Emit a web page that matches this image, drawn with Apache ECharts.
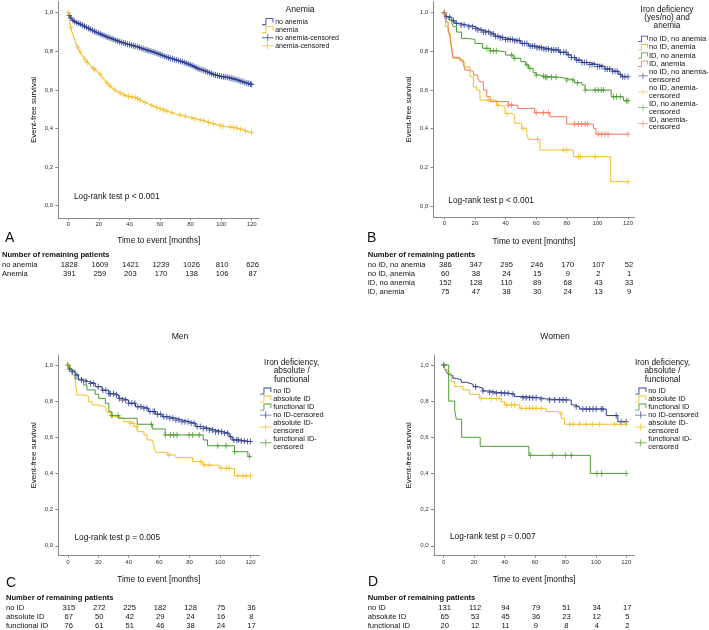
<!DOCTYPE html>
<html><head><meta charset="utf-8">
<script src="https://cdn.jsdelivr.net/npm/echarts@6/dist/echarts.min.js"></script>
<style>html,body{margin:0;padding:0;background:#fff}#c{width:709px;height:630px}</style>
</head><body><div id="c"></div>
<script>
// ---------------- DATA ----------------
const xTicks = [0, 20, 40, 60, 80, 100, 120];
const yTicks = [0, 0.2, 0.4, 0.6, 0.8, 1.0];

// Panel A: Anemia
const A_noAnemia = [[0,1],[0.3,0.988],[1,0.98],[3,0.96],[5,0.95],[8,0.94],[12,0.924],[15,0.912],[18,0.9],[22,0.886],[25,0.876],[30,0.86],[35,0.846],[40,0.834],[45,0.824],[50,0.81],[55,0.798],[60,0.784],[65,0.768],[70,0.757],[75,0.745],[80,0.73],[85,0.71],[90,0.697],[95,0.68],[100,0.669],[105,0.664],[110,0.653],[115,0.64],[120,0.628]];
const A_anemia = [[0,1],[1,0.948],[2,0.91],[3,0.885],[5,0.84],[6.5,0.815],[9,0.78],[12,0.746],[16,0.714],[20,0.688],[23,0.66],[26,0.628],[30,0.602],[34,0.583],[38,0.569],[44,0.56],[49,0.54],[55,0.518],[62,0.497],[69,0.479],[75,0.466],[82,0.453],[88,0.441],[95,0.424],[102,0.41],[108,0.406],[113,0.397],[117,0.385],[120,0.379]];
const A_censNoAnemia = [0.5,1.8,3.1,4.2,5.6,6.9,8.1,9.4,10.6,11.9,13.3,14.4,15.8,17.1,18.2,19.6,20.9,22.1,23.4,24.7,25.9,27.2,28.6,29.8,31.1,32.3,33.6,34.9,36.2,37.4,38.7,40.1,41.3,42.6,43.8,45.2,46.5,47.7,49.0,50.3,51.6,52.8,54.1,55.5,56.7,58.0,59.3,60.5,61.8,63.1,64.4,65.6,66.9,68.2,69.5,70.7,72.0,73.4,74.6,75.9,77.2,78.4,79.7,81.0,82.3,83.6,84.8,86.1,87.4,88.7,89.9,91.2,92.5,93.8,95.1,96.3,97.6,98.9,100.2,101.5,102.7,104.0,105.3,106.6,107.8,109.1,110.4,111.7,112.9,114.2,115.5,116.8,118.0,119.2,120];
const A_censAnemia = [0,1.6,6.1,7.7,10.9,12.5,16.4,17.5,20.8,25.2,27.4,30.6,33.9,36.5,39.4,41.6,43.7,45.3,47,50.3,54.7,57.9,60.1,62.3,64.5,67.8,73.2,76.5,80.9,83,86.3,88.5,91.8,95,99.4,101.2,106,108.2,110.4,112.6,115.9,119.8];
const A_riskLabels = ['no anemia', 'Anemia'];
const A_riskNoAnemia = [1828, 1609, 1421, 1239, 1026, 810, 626];
const A_riskAnemia = [391, 259, 203, 170, 138, 106, 87];

// Panel B: Iron deficiency (yes/no) and anemia
const B_noIDnoAn = [[0,1],[1,0.98],[3,0.976],[5,0.958],[7,0.945],[10,0.936],[15,0.928],[20,0.919],[22,0.91],[25,0.9],[30,0.89],[33,0.878],[36,0.87],[40,0.862],[45,0.855],[50,0.841],[55,0.828],[60,0.819],[65,0.812],[70,0.807],[75,0.795],[80,0.782],[83,0.768],[86,0.755],[90,0.742],[95,0.732],[100,0.722],[105,0.709],[110,0.697],[114,0.68],[116,0.669],[120,0.669]];
const B_noIDAn = [[0,1],[0.5,0.97],[1,0.928],[2.6,0.893],[4,0.841],[4.8,0.807],[6,0.764],[11,0.745],[13.5,0.72],[16.8,0.669],[19,0.617],[21,0.6],[23.3,0.548],[34,0.522],[36,0.514],[39.7,0.479],[44,0.47],[46,0.428],[50.5,0.402],[53.8,0.376],[55,0.345],[62.5,0.29],[84.3,0.255],[108.7,0.126],[120,0.126]];
const B_IDnoAn = [[0,1],[1,0.98],[3,0.962],[5,0.945],[6,0.928],[8,0.9],[11.3,0.867],[15,0.862],[20,0.841],[25,0.816],[30,0.803],[35,0.798],[40,0.781],[45,0.764],[50,0.747],[53,0.73],[55,0.712],[58,0.69],[60,0.678],[62,0.672],[65,0.666],[75,0.66],[80,0.652],[85,0.638],[90,0.626],[92,0.6],[109,0.566],[117,0.545],[120,0.545]];
const B_IDAn = [[0,1],[1,0.953],[2.5,0.91],[3.7,0.876],[4.8,0.824],[5.5,0.769],[10,0.755],[12.4,0.738],[13.5,0.703],[16.8,0.695],[19,0.678],[22,0.66],[23,0.643],[25.5,0.6],[27.7,0.566],[30,0.54],[41.8,0.522],[48,0.505],[59,0.483],[69,0.462],[80,0.424],[97.4,0.402],[99,0.372],[120,0.372]];
const B_censNoIDnoAn = [0,1.5,3.5,6,8,11,13,16,18.5,20.5,22,24,25.5,27,29,30.5,32,33.5,35,36.5,38,40,41.5,43,44.5,46,47.5,49,51,52.5,54,56,57.5,59,60.5,62,63.5,65,66.5,68,70,71.5,73,74.5,76,78,79.5,81,83,85,86.5,88,90,91.5,93,95,96.5,98,100,101.5,103,105,106.5,108,110,111.5,113,115,116.5,118,120];
const B_censNoIDAn = [0,28.7,35,41,51.5,61,77.8,80,87.6,88.7,98.5,120];
const B_censIDnoAn = [0,27.7,30,32,34,44,46,54,56,60,64.7,66,67,70,73,80,84,87,92,98.5,100.5,102.5,104,110.5,112.5,115,119,120];
const B_censIDAn = [0,41.8,44,60,64.7,68,85,87.6,89.8,92,93.5,100.6,102.8,105,107,120];
const B_riskLabels = ['no ID, no anemia', 'no ID, anemia', 'ID, no anemia', 'ID, anemia'];
const B_riskNoIDnoAn = [386, 347, 295, 246, 170, 107, 52];
const B_riskNoIDAn = [60, 38, 24, 15, 9, 2, 1];
const B_riskIDnoAn = [152, 128, 110, 89, 68, 43, 33];
const B_riskIDAn = [75, 47, 38, 30, 24, 13, 9];

// Panel C: Men
const C_noID = [[0,1],[1,0.978],[2.6,0.963],[4.8,0.945],[7,0.917],[11.5,0.908],[13.7,0.898],[18,0.88],[22.5,0.86],[27,0.841],[31,0.834],[33.5,0.815],[35.7,0.806],[40,0.788],[44.5,0.769],[49,0.76],[53,0.742],[57.7,0.727],[62,0.714],[66.5,0.705],[71,0.696],[75,0.686],[79.7,0.677],[84,0.659],[88.5,0.649],[93,0.64],[97,0.631],[101.8,0.622],[106,0.603],[108,0.585],[113,0.579],[117,0.576],[120,0.576]];
const C_absID = [[0,1],[1,0.972],[2.6,0.945],[4.8,0.926],[6,0.834],[11.5,0.825],[13.7,0.797],[15.9,0.779],[19,0.769],[24.7,0.76],[25.8,0.738],[28,0.714],[33.5,0.705],[36.8,0.686],[41,0.677],[43.4,0.659],[45.6,0.631],[50,0.613],[52,0.585],[55.5,0.576],[56.6,0.548],[57.7,0.517],[65.4,0.502],[71,0.487],[82,0.465],[88.5,0.446],[99.5,0.428],[109.5,0.387],[120,0.387]];
const C_funcID = [[0,1],[1.5,0.972],[4.8,0.922],[10.4,0.889],[12.6,0.862],[18,0.838],[20.3,0.815],[24.7,0.788],[27,0.742],[29,0.72],[33.5,0.705],[45.6,0.672],[55.5,0.646],[64,0.613],[89,0.585],[91.8,0.553],[109.5,0.52],[118.3,0.493],[120,0.493]];
const C_censNoID = [1,3,6,9,12,15,17,20,23,25,27,28,30,32,34,36,38,40,42,44,46,48,50,52,54,56,57,59,61,63,65,67,69,71,73,75,77,79,81,83,85,87,89,91,93,95,97,99,101,103,105,107,109,111,112,114,116,118,120];
const C_censAbsID = [0,41,43,45,66.5,87.4,89.6,93,100.7,104,106,111.7,115,117,120];
const C_censFuncID = [0,29,33,55,64,67.4,69.6,71.8,79.7,82,86.3,98.5,104,109.5,119.4];
const C_riskLabels = ['no ID', 'absolute ID', 'functional ID'];
const C_riskNoID = [315, 272, 225, 182, 128, 75, 36];
const C_riskAbsID = [67, 50, 42, 29, 24, 16, 8];
const C_riskFuncID = [76, 61, 51, 46, 38, 24, 17];

// Panel D: Women
const D_noID = [[0,1],[0.7,0.98],[1.75,0.963],[3,0.948],[4,0.941],[6.1,0.926],[8.3,0.917],[11.6,0.904],[14.9,0.893],[19.3,0.88],[22.6,0.871],[25.8,0.856],[30.2,0.849],[34.6,0.843],[43.4,0.838],[46.6,0.825],[52,0.819],[63,0.812],[67.4,0.806],[83.9,0.779],[86,0.769],[89.3,0.756],[106.9,0.72],[114.5,0.686],[120,0.686]];
const D_absID = [[0,1],[1,0.975],[2.8,0.954],[5,0.908],[7.2,0.88],[12.7,0.862],[17,0.838],[23.6,0.815],[37.9,0.797],[40,0.779],[50,0.76],[67.4,0.742],[75,0.733],[77.3,0.705],[79.5,0.672],[120,0.672]];
const D_funcID = [[0,1],[3.3,0.8],[7.2,0.75],[8.3,0.7],[11.8,0.6],[24,0.55],[56,0.5],[96.4,0.4],[120,0.4]];
const D_censNoID = [0,21,25.8,30.2,32.4,34.6,37.9,40.1,42.3,45.5,52,54.2,56.4,58.6,60.8,64,69.6,72.9,76.2,78.4,80.6,87.1,91.5,93.7,95.9,98.1,100.3,103.6,104.7,113.4,116.7,120];
const D_censAbsID = [24.7,31.3,34.6,36.8,41.2,44.5,46.6,51,54.2,56.4,58.6,60.8,64.1,77.2,82.8,85,89.3,93.7,98.1,102.5,112.3,116.7,120];
const D_censFuncID = [0,57,71.4,80,83.9,100.7,103.8,120];
const D_riskLabels = ['no ID', 'absolute ID', 'functional ID'];
const D_riskNoID = [131, 112, 94, 79, 51, 34, 17];
const D_riskAbsID = [65, 53, 45, 36, 23, 12, 5];
const D_riskFuncID = [20, 12, 11, 9, 8, 4, 2];

// ---------------- STYLE / LAYOUT ----------------
const FONT = '"Liberation Sans", Arial, Helvetica, sans-serif';
const BLUE = '#2b3c8f', YELLOW = '#f1bf2a', GREEN = '#4e9b31', RED = '#f6775a';
const STEP_ICON = 'path://M0,7h5v1h-5z M4,0h1v8h-1z M4,0h9v1h-9z M12,0h1v5h-1z';
const PLUS_ICON = 'path://M0,3.5h13v1h-13z M6,0h1v8h-1z';
const CENS_SYM = 'path://M0,2.5h5v1h-5z M2,0h1v6h-1z';

function survAt(curve, t, step) {
  let i = 0;
  while (i < curve.length - 1 && curve[i + 1][0] <= t) i++;
  if (step || i === curve.length - 1) return curve[i][1];
  const a = curve[i], b = curve[i + 1];
  return a[1] + (b[1] - a[1]) * (t - a[0]) / (b[0] - a[0]);
}

const panels = [
  { grid: {left: 58.3, top: 1.7, width: 201, height: 216.6}, x: [-6.54, 124.97], y: [-0.0653, 1.057], step: false,
    xNameGap: 18.6, yNameGap: 21,
    groups: [
      {name: 'no anemia', data: A_noAnemia, cens: A_censNoAnemia, color: BLUE, w: 1.3},
      {name: 'anemia', data: A_anemia, cens: A_censAnemia, color: YELLOW, w: 1.1}],
    legend: {left: 262, top: 17.7, iw: 13, lh: 8, gap: 0, fs: 7},
    risk: {labels: A_riskLabels, rows: [A_riskNoAnemia, A_riskAnemia], labelX: 2, headY: 255, rowY: [265, 274]} },
  { grid: {left: 433.5, top: 1.7, width: 200.8, height: 215.6}, x: [-7.05, 124.1], y: [-0.058, 1.057], step: true,
    xNameGap: 20, yNameGap: 21,
    groups: [
      {name: 'no ID, no anemia', data: B_noIDnoAn, cens: B_censNoIDnoAn, color: BLUE, w: 1},
      {name: 'no ID, anemia', data: B_noIDAn, cens: B_censNoIDAn, color: YELLOW, w: 1},
      {name: 'ID, no anemia', data: B_IDnoAn, cens: B_censIDnoAn, color: GREEN, w: 1},
      {name: 'ID, anemia', data: B_IDAn, cens: B_censIDAn, color: RED, w: 1}],
    legend: {left: 638, top: 34.9, iw: 10, lh: 7.6, gap: 0.3, wrap: true, fs: 7.5},
    risk: {labels: B_riskLabels, rows: [B_riskNoIDnoAn, B_riskNoIDAn, B_riskIDnoAn, B_riskIDAn], labelX: 367.7, headY: 255, rowY: [265, 274, 283, 292]} },
  { grid: {left: 58.3, top: 355, width: 201, height: 200.7}, x: [-6.24, 125.8], y: [-0.055, 1.055], step: true,
    xNameGap: 20.3, yNameGap: 21,
    groups: [
      {name: 'no ID', data: C_noID, cens: C_censNoID, color: BLUE, w: 1},
      {name: 'absolute ID', data: C_absID, cens: C_censAbsID, color: YELLOW, w: 1},
      {name: 'functional ID', data: C_funcID, cens: C_censFuncID, color: GREEN, w: 1}],
    legend: {left: 260, top: 387.2, iw: 13, lh: 7.8, gap: 0.2, wrapAfter: 1, fs: 7.4},
    risk: {labels: C_riskLabels, rows: [C_riskNoID, C_riskAbsID, C_riskFuncID], labelX: 6, headY: 598, rowY: [608, 617, 626]} },
  { grid: {left: 434, top: 355, width: 200.3, height: 200.7}, x: [-6.37, 125.3], y: [-0.055, 1.055], step: true,
    xNameGap: 20.3, yNameGap: 21,
    groups: [
      {name: 'no ID', data: D_noID, cens: D_censNoID, color: BLUE, w: 1},
      {name: 'absolute ID', data: D_absID, cens: D_censAbsID, color: YELLOW, w: 1},
      {name: 'functional ID', data: D_funcID, cens: D_censFuncID, color: GREEN, w: 1}],
    legend: {left: 635, top: 387.2, iw: 13, lh: 7.8, gap: 0.2, wrapAfter: 1, fs: 7.4},
    risk: {labels: D_riskLabels, rows: [D_riskNoID, D_riskAbsID, D_riskFuncID], labelX: 367.7, headY: 598, rowY: [608, 617, 626]} }
];

const grids = [], xAxes = [], yAxes = [], series = [], legends = [];
panels.forEach((p, gi) => {
  grids.push(Object.assign({containLabel: false}, p.grid));
  xAxes.push({
    type: 'value', gridIndex: gi, min: p.x[0], max: p.x[1],
    name: 'Time to event [months]', nameLocation: 'middle', nameGap: p.xNameGap,
    nameTextStyle: {fontSize: 8.2, fontFamily: FONT, color: '#111'},
    axisLine: {show: true, onZero: false, lineStyle: {color: '#8a8a8a', width: 1}},
    axisTick: {show: true, length: 2, customValues: xTicks, lineStyle: {color: '#8a8a8a'}},
    axisLabel: {customValues: xTicks, fontSize: 6, margin: 3.5, color: '#333', fontFamily: FONT},
    splitLine: {show: false}
  });
  yAxes.push({
    type: 'value', gridIndex: gi, min: p.y[0], max: p.y[1],
    name: 'Event-free survival', nameLocation: 'middle', nameGap: p.yNameGap,
    nameTextStyle: {fontSize: 8, fontFamily: FONT, color: '#111'},
    axisLine: {show: true, onZero: false, lineStyle: {color: '#8a8a8a', width: 1}},
    axisTick: {show: true, length: 3, customValues: yTicks, lineStyle: {color: '#8a8a8a'}},
    axisLabel: {customValues: yTicks, fontSize: 6, margin: 5.3, color: '#333', fontFamily: FONT,
      formatter: v => v.toFixed(1).replace('.', ',')},
    splitLine: {show: false}
  });
  const names = [], censNames = [];
  p.groups.forEach(g => {
    names.push(g.name);
    series.push({
      type: 'line', name: g.name, xAxisIndex: gi, yAxisIndex: gi, data: g.data,
      step: p.step ? 'end' : false, symbol: 'none', showSymbol: false, color: g.color,
      lineStyle: {color: g.color, width: g.w}, itemStyle: {color: g.color}, z: 2, silent: true
    });
  });
  p.groups.forEach(g => {
    const cn = g.name + '-censored';
    censNames.push(cn);
    series.push({
      type: 'scatter', name: cn, xAxisIndex: gi, yAxisIndex: gi,
      data: g.cens.map(t => [t, survAt(g.data, t, p.step)]),
      symbol: CENS_SYM, symbolSize: [5, 6], color: g.color, itemStyle: {color: g.color}, z: 3, silent: true
    });
  });
  const L = p.legend;
  const legendData = names.map(n => ({name: n, icon: STEP_ICON}))
    .concat(censNames.map(n => ({name: n, icon: PLUS_ICON})));
  legends.push({
    show: true, orient: 'vertical', left: L.left, top: L.top, padding: 0,
    itemGap: L.gap, itemWidth: L.iw, itemHeight: 7, selectedMode: false,
    itemStyle: {borderWidth: 0},
    textStyle: {fontSize: L.fs, lineHeight: L.lh, fontFamily: FONT, color: '#111', padding: [0, 0, 0, -4]},
    data: legendData,
    formatter: function (name) {
      if (!/-censored$/.test(name)) return name;
      if (L.wrap) return name.replace('-censored', '-\ncensored');
      if (L.wrapAfter && name !== censNames[0]) return name.replace('-censored', '-\ncensored');
      return name;
    }
  });
});

const chart = echarts.init(document.getElementById('c'), null, {renderer: 'canvas'});
chart.setOption({
  animation: false, backgroundColor: '#fff',
  grid: grids, xAxis: xAxes, yAxis: yAxes, series: series, legend: legends
});

// ---------------- TEXTS ----------------
function txt(text, x, y, font, align, extra) {
  return {type: 'text', silent: true, style: Object.assign({
    text: text, x: x, y: y, font: font, fill: '#111', textAlign: align || 'left', textVerticalAlign: 'middle'
  }, extra || {})};
}
const F = (s, b) => (b ? 'bold ' : '') + s + 'px ' + FONT;
const g = [];
// legend titles
g.push(txt('Anemia', 300, 10, F(8.6), 'center'));
g.push(txt('Iron deficiency\n(yes/no) and\nanemia', 667, 17.6, F(8.2), 'center', {lineHeight: 7.9}));
g.push(txt('Iron deficiency,\nabsolute /\nfunctional', 291.7, 371, F(8.3), 'center', {lineHeight: 8.3}));
g.push(txt('Iron deficiency,\nabsolute /\nfunctional', 662.5, 371, F(8.3), 'center', {lineHeight: 8.3}));
// chart titles
g.push(txt('Men', 180, 337, F(8.6), 'center'));
g.push(txt('Women', 555, 337, F(8.6), 'center'));
// log-rank
g.push(txt('Log-rank test p < 0.001', 74, 196.7, F(8.3)));
g.push(txt('Log-rank test p < 0.001', 448.3, 200.5, F(8.3)));
g.push(txt('Log-rank test p = 0.005', 74.5, 537.3, F(8.3)));
g.push(txt('Log-rank test p = 0.007', 450, 537, F(8.3)));
// panel letters
g.push(txt('A', 5, 238, F(14)));
g.push(txt('B', 367, 238, F(14)));
g.push(txt('C', 6, 583, F(14)));
g.push(txt('D', 368, 582.5, F(14)));
// risk tables
panels.forEach((p, gi) => {
  const r = p.risk;
  g.push(txt('Number of remaining patients', r.labelX, r.headY, F(7.6, true)));
  r.labels.forEach((lab, ri) => {
    g.push(txt(lab, r.labelX, r.rowY[ri], F(7.6)));
    r.rows[ri].forEach((v, ci) => {
      const px = chart.convertToPixel({xAxisIndex: gi}, xTicks[ci]);
      g.push(txt(String(v), px + 1, r.rowY[ri], F(7.6), 'center'));
    });
  });
});
chart.setOption({graphic: {elements: g}});
</script></body></html>
